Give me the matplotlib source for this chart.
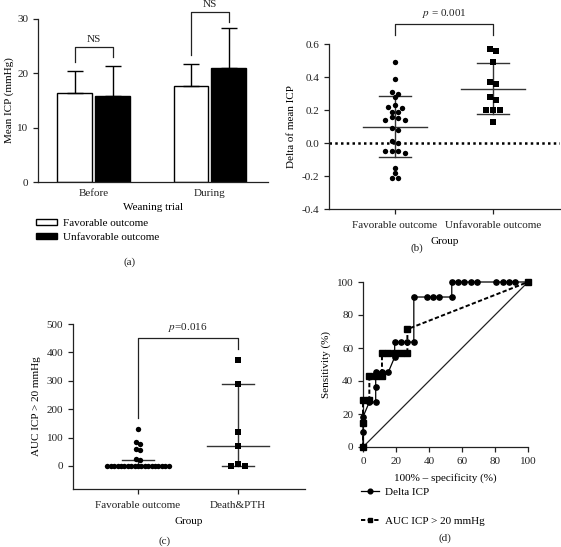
import numpy as np
import matplotlib
matplotlib.use('Agg')
import matplotlib.pyplot as plt
from matplotlib.patches import Patch
from matplotlib.lines import Line2D

plt.rcParams['font.family'] = ['Liberation Serif', 'DejaVu Serif']
plt.rcParams['mathtext.fontset'] = 'stix'
plt.rcParams['font.size'] = 8
plt.rcParams['axes.linewidth'] = 0.9
plt.rcParams['xtick.major.size'] = 3.5
plt.rcParams['ytick.major.size'] = 3.5
plt.rcParams['axes.unicode_minus'] = True

INK = '#222222'

# (a) mean ICP during weaning trial
trial_phases = ['Before', 'During']
icp_favorable = [16.3, 17.6]
icp_favorable_sd = [4.2, 4.1]
icp_unfavorable = [15.8, 21.0]
icp_unfavorable_sd = [5.5, 7.3]

# (b) delta of mean ICP per patient
groups_b = ['Favorable outcome', 'Unfavorable outcome']
delta_favorable = [0.49, 0.39, 0.31, 0.30, 0.28, 0.23, 0.22, 0.21, 0.19, 0.19,
                   0.16, 0.15, 0.14, 0.14, 0.09, 0.08, 0.01, 0.00, -0.05, -0.05,
                   -0.05, -0.06, -0.15, -0.18, -0.21, -0.21]
delta_unfavorable = [0.57, 0.56, 0.49, 0.37, 0.36, 0.28, 0.26, 0.20, 0.20, 0.20, 0.13]
delta_mean = [0.10, 0.33]
delta_sd = [0.185, 0.155]

# (c) AUC of ICP > 20 mmHg per patient
groups_c = ['Favorable outcome', 'Death&PTH']
auc_favorable = [130, 85, 76, 59, 56, 26, 20] + [0] * 19
auc_death = [372, 288, 119, 72, 8, 0, 0]
auc_median = [0, 72]
auc_q1 = [0, 0]
auc_q3 = [22, 290]

# (d) ROC curves
roc_delta_x = [0, 0, 0, 3.85, 7.7, 7.7, 7.7, 11.5, 15.4, 19.2, 19.2, 23.1, 26.9, 30.8,
               30.8, 38.5, 42.3, 46.2, 53.8, 53.8, 57.7, 61.5, 65.4, 69.2, 80.8, 84.6,
               88.5, 92.3, 100]
roc_delta_y = [0, 9.1, 18.2, 27.3, 27.3, 36.4, 45.5, 45.5, 45.5, 54.5, 63.6, 63.6, 63.6,
               63.6, 90.9, 90.9, 90.9, 90.9, 90.9, 100, 100, 100, 100, 100, 100, 100,
               100, 100, 100]
roc_auc_x = [0, 0, 0, 3.85, 3.85, 7.7, 11.5, 11.5, 15.4, 19.2, 23.1, 26.9, 26.9, 100]
roc_auc_y = [0, 14.3, 28.6, 28.6, 42.9, 42.9, 42.9, 57.1, 57.1, 57.1, 57.1, 57.1, 71.4, 100]


def swarm_offsets(values, y_px, x_px, gap, dot=4.5):
    # put values that would overlap on the same row and spread that row sideways
    values = np.asarray(values, dtype=float)
    order = np.argsort(-values, kind='stable')
    rows = []
    for idx in order:
        if rows and (values[rows[-1][0]] - values[idx]) * y_px < dot:
            rows[-1].append(idx)
        else:
            rows.append([idx])
    offsets = np.zeros(len(values))
    for row in rows:
        n = len(row)
        slots = sorted([k - (n - 1) / 2 for k in range(n)], key=lambda s: (abs(s), s))
        for idx, s in zip(row, slots):
            offsets[idx] = s * gap / x_px
    return offsets


def style_axes(ax):
    for side in ['top', 'right']:
        ax.spines[side].set_visible(False)
    for side in ['left', 'bottom']:
        ax.spines[side].set_color(INK)
    ax.tick_params(colors=INK, labelcolor=INK, width=0.9)


W, H = 561, 547
fig = plt.figure(figsize=(W / 100, H / 100), dpi=100)


def box(left, top, right, bottom):
    return [left / W, 1 - bottom / H, (right - left) / W, (bottom - top) / H]


# ---------- (a) ----------
ax = fig.add_axes(box(38, 19, 268, 182))
style_axes(ax)
x = np.arange(len(trial_phases))
bw, off = 0.30, 0.163
ax.bar(x - off, icp_favorable, bw, color='white', edgecolor='black', linewidth=1.0,
       yerr=[[0, 0], icp_favorable_sd], capsize=6, error_kw=dict(elinewidth=1.0, capthick=1.0, ecolor='black'))
ax.bar(x + off, icp_unfavorable, bw, color='black', edgecolor='black', linewidth=1.0,
       yerr=[[0, 0], icp_unfavorable_sd], capsize=6, error_kw=dict(elinewidth=1.0, capthick=1.0, ecolor='black'))
ax.set_xlim(-0.48, 1.5)
ax.set_ylim(0, 30)
ax.set_yticks([0, 10, 20, 30])
ax.set_xticks(x)
ax.set_xticklabels(trial_phases)
ax.tick_params(axis='x', length=0, pad=5)
ax.set_ylabel('Mean ICP (mmHg)', labelpad=2)
ax.set_xlabel('Weaning trial', labelpad=4)
brackets_a = [(0, 22.0, 23.0, 24.9, 26.3), (1, 23.4, 29.5, 31.3, 32.6)]
for i, yl, yr, top, ty in brackets_a:
    ax.plot([i - off, i - off, i + off, i + off], [yl, top, top, yr], color=INK, lw=0.9, clip_on=False)
    ax.text(i, ty, 'NS', ha='center', va='center', color=INK, clip_on=False)

fig.legend(handles=[Patch(facecolor='white', edgecolor='black', linewidth=1.0),
                    Patch(facecolor='black', edgecolor='black', linewidth=1.0)],
           labels=['Favorable outcome', 'Unfavorable outcome'],
           loc='upper left', bbox_to_anchor=(36 / W, 1 - 219 / H), frameon=False,
           handlelength=1.9, handleheight=0.45, handletextpad=0.55, labelspacing=0.45,
           borderaxespad=0, borderpad=0)
fig.text(130 / W, 1 - 262 / H, '(a)', ha='center', va='center', color=INK)

# ---------- (b) ----------
ax = fig.add_axes(box(329, 44, 560, 209))
style_axes(ax)
ax.set_xlim(0.327, 2.684)
ax.set_ylim(-0.4, 0.6)
b_ypx, b_xpx = 165 / 1.0, 98
for i, (vals, mk) in enumerate([(delta_favorable, 'o'), (delta_unfavorable, 's')]):
    pos = i + 1
    offs = swarm_offsets(vals, b_ypx, b_xpx, gap=6.7)
    ax.scatter(pos + offs, vals, marker=mk, s=15 if mk == 'o' else 14, color='black', zorder=3, linewidths=0)
    m, sd = delta_mean[i], delta_sd[i]
    ax.plot([pos - 0.33, pos + 0.33], [m, m], color='#333333', lw=1.0, zorder=2)
    ax.plot([pos - 0.165, pos + 0.165], [m + sd, m + sd], color='#333333', lw=1.0, zorder=2)
    ax.plot([pos - 0.165, pos + 0.165], [m - sd, m - sd], color='#333333', lw=1.0, zorder=2)
    ax.plot([pos, pos], [m - sd, m + sd], color='#333333', lw=1.0, zorder=2)
ax.axhline(0, color='black', lw=1.8, linestyle=(0, (1, 1.3)), zorder=1)
ax.set_xticks([1, 2])
ax.set_xticklabels(groups_b)
ax.tick_params(axis='x', pad=5)
ax.set_yticks(np.arange(-0.4, 0.61, 0.2))
ax.set_yticklabels(['%.1f' % t for t in np.arange(-0.4, 0.61, 0.2)])
ax.set_ylabel('Delta of mean ICP', labelpad=4)
ax.set_xlabel('Group', labelpad=5)
ax.plot([1, 1, 2, 2], [0.655, 0.72, 0.72, 0.655], color=INK, lw=0.9, clip_on=False)
ax.text(1.5, 0.785, r'$p$ = 0.001', ha='center', va='center', color=INK, clip_on=False)
fig.text(417 / W, 1 - 248 / H, '(b)', ha='center', va='center', color=INK)

# ---------- (c) ----------
ax = fig.add_axes(box(73, 324, 305, 489))
style_axes(ax)
ax.set_xlim(0.35, 2.67)
ax.set_ylim(-81, 500)
c_ypx, c_xpx = 165 / 581, 100
for i, (vals, mk, gap) in enumerate([(auc_favorable, 'o', 3.4), (auc_death, 's', 6.7)]):
    pos = i + 1
    offs = swarm_offsets(vals, c_ypx, c_xpx, gap=gap)
    ax.scatter(pos + offs, vals, marker=mk, s=15 if mk == 'o' else 14, color='black', zorder=3, linewidths=0)
    ax.plot([pos - 0.31, pos + 0.31], [auc_median[i]] * 2, color='#333333', lw=1.0, zorder=2)
    ax.plot([pos - 0.16, pos + 0.16], [auc_q3[i]] * 2, color='#333333', lw=1.0, zorder=2)
    ax.plot([pos - 0.16, pos + 0.16], [auc_q1[i]] * 2, color='#333333', lw=1.0, zorder=2)
    ax.plot([pos, pos], [auc_q1[i], auc_q3[i]], color='#333333', lw=1.0, zorder=2)
ax.set_xticks([1, 2])
ax.set_xticklabels(groups_c)
ax.tick_params(axis='x', pad=5)
ax.set_yticks(np.arange(0, 501, 100))
ax.set_ylabel('AUC ICP > 20 mmHg', labelpad=4)
ax.set_xlabel('Group', labelpad=5)
ax.plot([1, 1, 2, 2], [168, 451, 451, 412], color=INK, lw=0.9, clip_on=False)
ax.text(1.5, 488, r'$p$=0.016', ha='center', va='center', color=INK, clip_on=False)
fig.text(165 / W, 1 - 541 / H, '(c)', ha='center', va='center', color=INK)

# ---------- (d) ----------
ax = fig.add_axes(box(363, 282, 528, 447))
style_axes(ax)
ax.set_xlim(0, 100)
ax.set_ylim(0, 100)
ax.plot([0, 100], [0, 100], color=INK, lw=0.9, zorder=1)
ax.plot(roc_auc_x, roc_auc_y, color='black', lw=1.4, linestyle=(0, (2.2, 1.2)),
        marker='s', ms=3.8, clip_on=False, zorder=3)
ax.plot(roc_delta_x, roc_delta_y, color='black', lw=0.9, linestyle='-',
        marker='o', ms=3.8, clip_on=False, zorder=4)
ax.set_xticks(np.arange(0, 101, 20))
ax.set_yticks(np.arange(0, 101, 20))
ax.tick_params(axis='x', pad=4)
ax.set_xlabel('100% \u2013 specificity (%)', labelpad=5)
ax.set_ylabel('Sensitivity (%)', labelpad=4)
fig.legend(handles=[Line2D([], [], color='black', lw=0.9, marker='o', ms=3.4),
                    Line2D([], [], color='black', lw=1.4, linestyle=(0, (2.2, 1.2)), marker='s', ms=3.4)],
           labels=['Delta ICP', 'AUC ICP > 20 mmHg'],
           loc='upper left', bbox_to_anchor=(361 / W, 1 - 487 / H), frameon=False,
           handlelength=1.6, handletextpad=0.6, labelspacing=1.75, borderaxespad=0, borderpad=0)
fig.text(445 / W, 1 - 538 / H, '(d)', ha='center', va='center', color=INK)

fig.savefig('out.png', dpi=100)
